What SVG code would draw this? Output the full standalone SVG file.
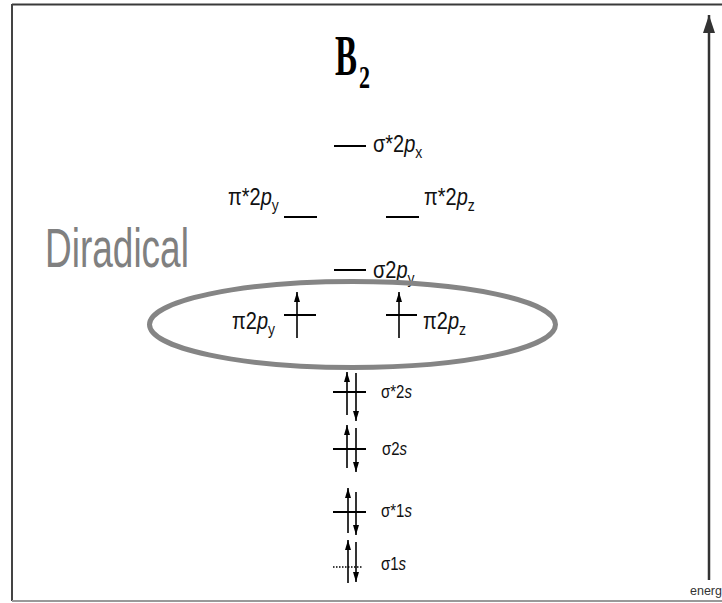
<svg xmlns="http://www.w3.org/2000/svg" width="722" height="603" viewBox="0 0 722 603">
<defs>
<marker id="eh" viewBox="0 0 10 6" refX="10" refY="3" markerWidth="10" markerHeight="6" markerUnits="userSpaceOnUse" orient="auto">
<path d="M0,0 L10,3 L0,6 z" fill="#000"/>
</marker>
<marker id="big" viewBox="0 0 18 12" refX="18" refY="6" markerWidth="18" markerHeight="12" markerUnits="userSpaceOnUse" orient="auto">
<path d="M0,0 L18,6 L0,12 z" fill="#333"/>
</marker>
</defs>
<style>
.lvl{stroke:#000;stroke-width:2;fill:none}
.el{stroke:#000;stroke-width:1.6;fill:none;marker-end:url(#eh)}
.lab{font-family:"Liberation Sans",Arial,sans-serif;font-size:20px;fill:#111}
.labs{font-family:"Liberation Sans",Arial,sans-serif;font-size:15px;fill:#111}
.it{font-style:italic}
</style>
<rect width="722" height="603" fill="#fff"/>
<g id="frame">
<line x1="12" y1="4.5" x2="722" y2="4.5" stroke="#3a3a3a" stroke-width="2"/>
<line x1="12" y1="4" x2="12" y2="601" stroke="#444" stroke-width="2"/>
<line x1="12" y1="601" x2="722" y2="601" stroke="#999" stroke-width="2"/>
</g>
<g id="title">
<text transform="translate(335,75) scale(1,1.7)" font-family="'Liberation Serif','Times New Roman',serif" font-weight="bold" font-size="33" fill="#000">B</text>
<text transform="translate(359,88) scale(1,1.45)" font-family="'Liberation Serif','Times New Roman',serif" font-weight="bold" font-size="22" fill="#000">2</text>
</g>
<g id="diradical">
<text transform="translate(45,267) scale(1,1.5)" font-family="'Liberation Sans',Arial,sans-serif" font-size="37" fill="#808080">Diradical</text>
</g>
<g id="sigma-star-2px">
<line class="lvl" x1="334" y1="146" x2="366" y2="146"/>
<text class="lab" transform="translate(373,152) scale(1,1.2)">σ*2<tspan class="it">p</tspan><tspan dy="5" font-size="14">x</tspan></text>
</g>
<g id="pi-star-2py">
<line class="lvl" x1="284" y1="217" x2="317" y2="217"/>
<text class="lab" transform="translate(228,205) scale(1,1.2)">π*2<tspan class="it">p</tspan><tspan dy="5" font-size="14">y</tspan></text>
</g>
<g id="pi-star-2pz">
<line class="lvl" x1="386" y1="217" x2="419" y2="217"/>
<text class="lab" transform="translate(424,205) scale(1,1.2)">π*2<tspan class="it">p</tspan><tspan dy="5" font-size="14">z</tspan></text>
</g>
<g id="sigma-2py">
<line class="lvl" x1="334" y1="270" x2="366" y2="270"/>
<text class="lab" transform="translate(373,278) scale(1,1.2)">σ2<tspan class="it">p</tspan><tspan dy="5" font-size="14">y</tspan></text>
</g>
<g id="highlight">
<ellipse cx="352.5" cy="324.5" rx="203" ry="43" fill="none" stroke="#858585" stroke-width="5"/>
</g>
<g id="pi-2py">
<line class="lvl" x1="284" y1="315" x2="316" y2="315"/>
<line class="el" x1="297" y1="338" x2="297" y2="292"/>
<text class="lab" transform="translate(232,329) scale(1,1.2)">π2<tspan class="it">p</tspan><tspan dy="5" font-size="14">y</tspan></text>
</g>
<g id="pi-2pz">
<line class="lvl" x1="386" y1="315" x2="417" y2="315"/>
<line class="el" x1="399" y1="338" x2="399" y2="292"/>
<text class="lab" transform="translate(423,329) scale(1,1.2)">π2<tspan class="it">p</tspan><tspan dy="5" font-size="14">z</tspan></text>
</g>
<g id="sigma-star-2s">
<line class="lvl" x1="333" y1="392" x2="366" y2="392"/>
<line class="el" x1="347" y1="415" x2="347" y2="372"/>
<line class="el" x1="356" y1="373" x2="356" y2="421"/>
<text class="labs" transform="translate(381,398) scale(1,1.25)">σ*2<tspan class="it">s</tspan></text>
</g>
<g id="sigma-2s">
<line class="lvl" x1="333" y1="449" x2="366" y2="449"/>
<line class="el" x1="347" y1="468" x2="347" y2="425"/>
<line class="el" x1="356" y1="428" x2="356" y2="472"/>
<text class="labs" transform="translate(382,455) scale(1,1.25)">σ2<tspan class="it">s</tspan></text>
</g>
<g id="sigma-star-1s">
<line class="lvl" x1="333" y1="512" x2="366" y2="512"/>
<line class="el" x1="348" y1="533" x2="348" y2="488"/>
<line class="el" x1="356" y1="492" x2="356" y2="535"/>
<text class="labs" transform="translate(381,517) scale(1,1.25)">σ*1<tspan class="it">s</tspan></text>
</g>
<g id="sigma-1s">
<line x1="333" y1="567" x2="363" y2="567" stroke="#000" stroke-width="1.5" stroke-dasharray="1.5 1.5"/>
<line class="el" x1="348" y1="583" x2="348" y2="540"/>
<line class="el" x1="356" y1="542" x2="356" y2="582"/>
<text class="labs" transform="translate(381,570) scale(1,1.25)">σ1<tspan class="it">s</tspan></text>
</g>
<g id="connectors">
<line x1="709" y1="580" x2="709" y2="15" stroke="#333" stroke-width="2.5" marker-end="url(#big)"/>
</g>
<g id="energy-label">
<text x="690" y="595" font-family="'Liberation Sans',Arial,sans-serif" font-size="12.5" fill="#333">energ</text>
</g>
</svg>
